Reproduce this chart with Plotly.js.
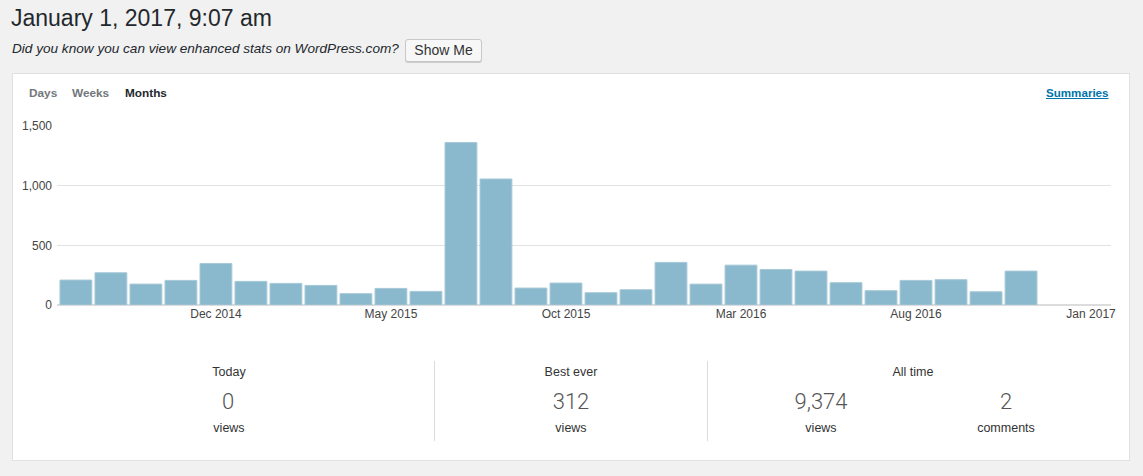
<!DOCTYPE html>
<html>
<head>
<meta charset="utf-8">
<script src="https://cdn.plot.ly/plotly-3.0.1.min.js"></script>
<style>
  html, body { margin:0; padding:0; background:#f1f1f1; width:1143px; height:476px; overflow:hidden;
    font-family:"Liberation Sans", Arial, Helvetica, sans-serif; color:#23282d; }
  .abs { position:absolute; white-space:nowrap; }
  #title { left:11px; top:5px; font-size:23px; color:#23282d; }
  #hint { left:12px; top:41px; font-size:13.6px; font-style:italic; color:#23282d; }
  #btn { left:405px; top:39px; width:75px; height:21px; border:1px solid #c8c8c8; border-radius:3px;
    background:#f7f7f7; box-shadow:0 1px 0 #ccc; font-size:14px; text-align:center; line-height:21px; color:#333; }
  #box { left:12px; top:73px; width:1116px; height:386px; background:#fff; border:1px solid #e1e1e1; }
  .tab { top:86px; font-size:11.8px; font-weight:bold; color:#72777c; }
  #summ { left:1046px; top:86px; font-size:11.6px; font-weight:bold; color:#0073aa; text-decoration:underline; }
  #chart { position:absolute; left:0; top:0; width:1143px; height:476px; }
  .lab { font-size:12.5px; color:#333; transform:translateX(-50%); }
  .num { font-family:Roboto, "Liberation Sans", sans-serif; font-weight:300; font-size:22px; color:#555; transform:translateX(-50%); }
  .div { width:1px; background:#dcdcdc; top:361px; height:80px; }
</style>
</head>
<body>
<div id="box" class="abs"></div>
<div id="title" class="abs">January 1, 2017, 9:07 am</div>
<div id="hint" class="abs">Did you know you can view enhanced stats on WordPress.com?</div>
<div id="btn" class="abs">Show Me</div>
<div class="abs tab" style="left:29px;">Days</div>
<div class="abs tab" style="left:72px;">Weeks</div>
<div class="abs tab" style="left:125px;color:#23282d;">Months</div>
<div id="summ" class="abs">Summaries</div>
<div id="chart"></div>

<div class="abs div" style="left:434px;"></div>
<div class="abs div" style="left:707px;"></div>

<div class="abs lab" style="left:229px;top:365px;">Today</div>
<div class="abs num" style="left:228px;top:389px;">0</div>
<div class="abs lab" style="left:229px;top:421px;">views</div>

<div class="abs lab" style="left:571px;top:365px;">Best ever</div>
<div class="abs num" style="left:571px;top:389px;">312</div>
<div class="abs lab" style="left:571px;top:421px;">views</div>

<div class="abs lab" style="left:913px;top:365px;">All time</div>
<div class="abs num" style="left:821px;top:389px;">9,374</div>
<div class="abs lab" style="left:821px;top:421px;">views</div>
<div class="abs num" style="left:1006px;top:389px;">2</div>
<div class="abs lab" style="left:1006px;top:421px;">comments</div>

<script>
const months = ["Aug 2014","Sep 2014","Oct 2014","Nov 2014","Dec 2014",
  "Jan 2015","Feb 2015","Mar 2015","Apr 2015","May 2015","Jun 2015","Jul 2015","Aug 2015","Sep 2015","Oct 2015","Nov 2015","Dec 2015",
  "Jan 2016","Feb 2016","Mar 2016","Apr 2016","May 2016","Jun 2016","Jul 2016","Aug 2016","Sep 2016","Oct 2016","Nov 2016","Dec 2016",
  "Jan 2017"];
const views = [209,270,175,206,348,198,181,164,95,139,114,1362,1056,142,184,103,128,357,175,334,298,284,187,120,206,212,111,284];
const tickLabels = ["Dec 2014","May 2015","Oct 2015","Mar 2016","Aug 2016","Jan 2017"];

const trace = {
  type:'bar',
  x: months.slice(0, views.length),
  y: views,
  marker:{color:'#8ab8cc', line:{color:'#a6c9d8', width:1}},
  hoverinfo:'x+y'
};
const layout = {
  width:1143, height:476,
  margin:{l:57, r:32, t:126, b:171, pad:0},
  paper_bgcolor:'rgba(0,0,0,0)', plot_bgcolor:'rgba(0,0,0,0)',
  showlegend:false, bargap:0.09,
  font:{family:'"Liberation Sans", Arial, sans-serif', size:12, color:'#444'},
  xaxis:{type:'category', categoryorder:'array', categoryarray:months,
    tickmode:'array', tickvals:tickLabels, ticktext:tickLabels,
    range:[-0.54, 29.57], showgrid:false, ticks:'', showline:false, zeroline:false,
    tickfont:{size:12, color:'#444'}},
  yaxis:{range:[0,1500], tickvals:[0,500,1000,1500], tickformat:',d',
    showgrid:true, gridcolor:'#e2e2e2', gridwidth:1.5, zeroline:true, zerolinecolor:'#dcdcdc', zerolinewidth:1.5,
    ticks:'', ticklabelstandoff:4, tickfont:{size:12, color:'#444'}, fixedrange:true}
};
Plotly.newPlot('chart', [trace], layout, {displayModeBar:false, staticPlot:true});
</script>
</body>
</html>
